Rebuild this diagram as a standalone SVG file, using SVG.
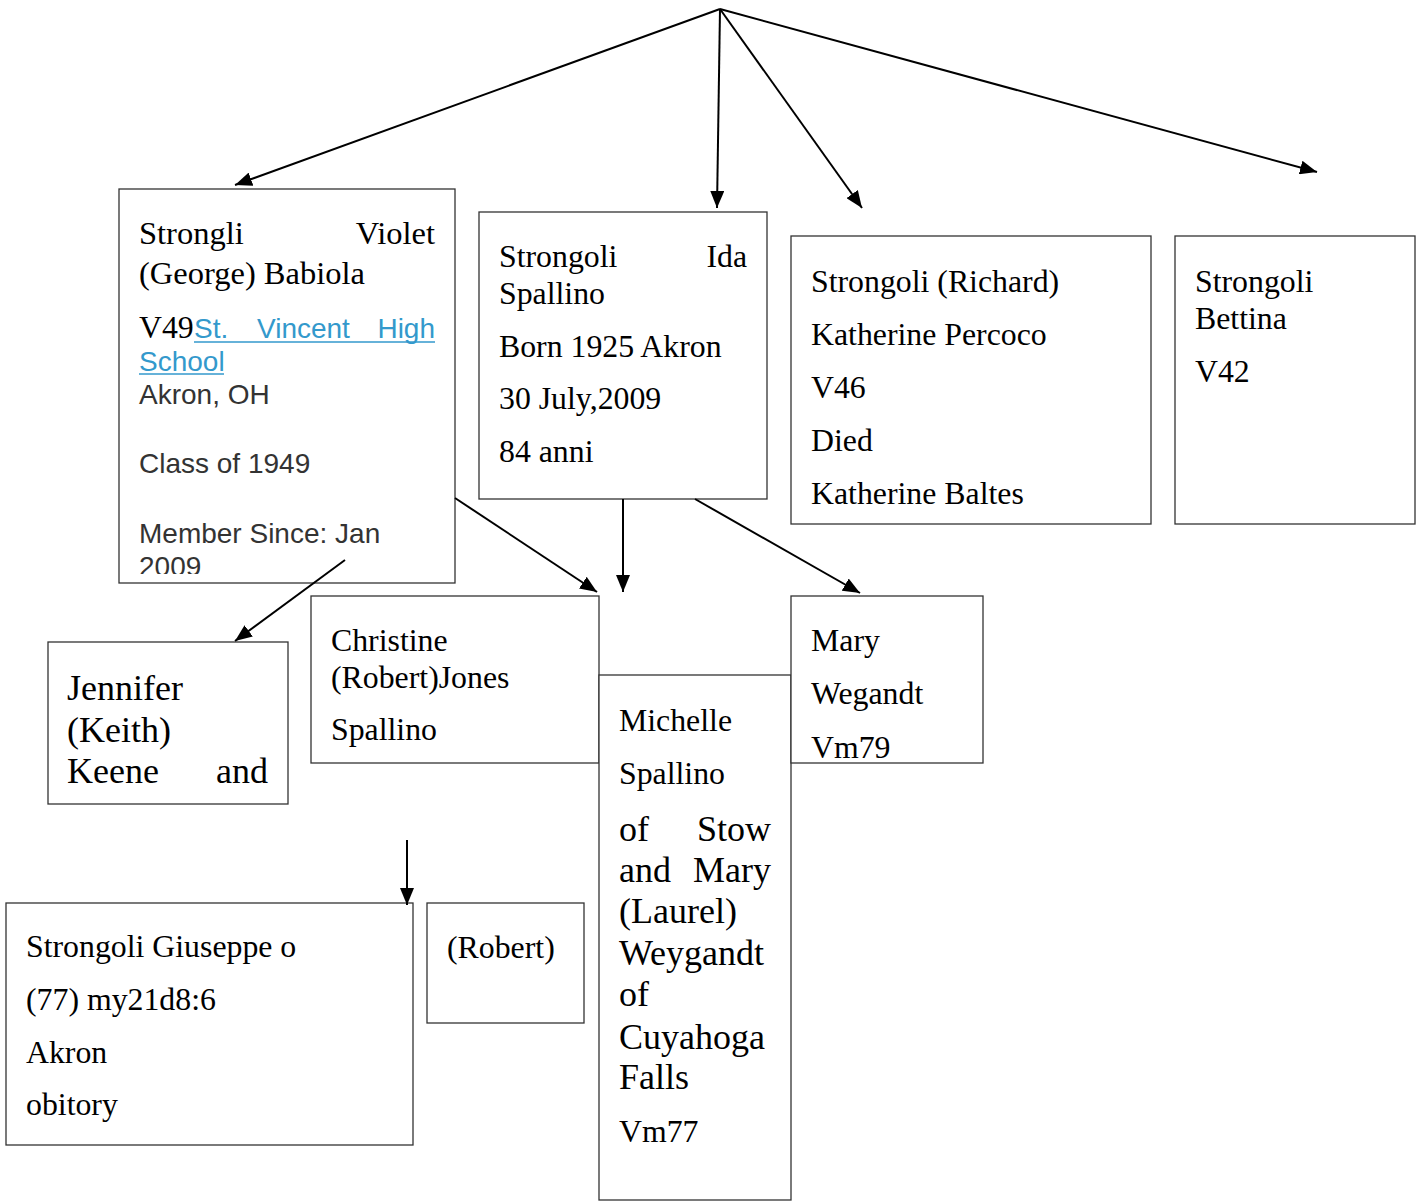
<svg xmlns="http://www.w3.org/2000/svg" width="1423" height="1203" viewBox="0 0 1423 1203">
<style>
.box{fill:#fff;stroke:#333;stroke-width:1.3}
.t{font-family:"Liberation Serif","Times New Roman",serif;font-size:31.8px;fill:#000}
.tb{font-family:"Liberation Serif","Times New Roman",serif;font-size:36px;fill:#000}
.a{font-family:"Liberation Sans",Arial,sans-serif;font-size:28px;fill:#333}
.lk{font-family:"Liberation Sans",Arial,sans-serif;font-size:28px;fill:#3399cc}
.ul{stroke:#3399cc;stroke-width:1.6}
.c{stroke:#000;stroke-width:2;fill:none;marker-end:url(#ah)}
</style>
<defs>
<marker id="ah" markerUnits="userSpaceOnUse" markerWidth="18" markerHeight="14" refX="17" refY="7" orient="auto">
<path d="M0,0 L17,7 L0,14 z" fill="#000"/>
</marker>
<clipPath id="cv"><rect x="119" y="189" width="336" height="385"/></clipPath>
<clipPath id="cm"><rect x="791" y="596" width="192" height="162"/></clipPath>
</defs>
<rect width="1423" height="1203" fill="#fff"/>

<g id="n-violet">
<rect class="box" x="119" y="189" width="336" height="394"/>
<g clip-path="url(#cv)">
<text class="t" style="font-size:32.5px" x="139" y="244">Strongli</text>
<text class="t" style="font-size:32.5px" x="435" y="244" text-anchor="end">Violet</text>
<text class="t" style="font-size:32.5px" x="139" y="284">(George) Babiola</text>
<text class="t" x="139" y="338">V49</text>
<text class="lk" x="194" y="338">St.</text>
<text class="lk" x="257" y="338">Vincent</text>
<text class="lk" x="435" y="338" text-anchor="end">High</text>
<line class="ul" x1="194" y1="342" x2="435" y2="342"/>
<text class="lk" x="139" y="371">School</text>
<line class="ul" x1="139" y1="374" x2="224" y2="374"/>
<text class="a" x="139" y="404">Akron, OH</text>
<text class="a" x="139" y="473">Class of 1949</text>
<text class="a" x="139" y="543">Member Since: Jan</text>
<text class="a" x="139" y="576">2009</text>
</g>
</g>

<g id="n-ida">
<rect class="box" x="479" y="212" width="288" height="287"/>
<text class="t" x="499" y="267">Strongoli</text>
<text class="t" x="747" y="267" text-anchor="end">Ida</text>
<text class="t" x="499" y="304">Spallino</text>
<text class="t" x="499" y="357">Born 1925 Akron</text>
<text class="t" x="499" y="409">30 July,2009</text>
<text class="t" x="499" y="462">84 anni</text>
</g>

<g id="n-richard">
<rect class="box" x="791" y="236" width="360" height="288"/>
<text class="t" x="811" y="292">Strongoli (Richard)</text>
<text class="t" x="811" y="345">Katherine Percoco</text>
<text class="t" x="811" y="398">V46</text>
<text class="t" x="811" y="451">Died</text>
<text class="t" x="811" y="504">Katherine Baltes</text>
</g>

<g id="n-bettina">
<rect class="box" x="1175" y="236" width="240" height="288"/>
<text class="t" x="1195" y="292">Strongoli</text>
<text class="t" x="1195" y="329">Bettina</text>
<text class="t" x="1195" y="382">V42</text>
</g>

<g id="n-jennifer">
<rect class="box" x="48" y="642" width="240" height="162"/>
<text class="tb" x="67" y="700">Jennifer</text>
<text class="tb" x="67" y="742">(Keith)</text>
<text class="tb" x="67" y="783">Keene</text>
<text class="tb" x="268" y="783" text-anchor="end">and</text>
</g>

<g id="n-christine">
<rect class="box" x="311" y="596" width="288" height="167"/>
<text class="t" x="331" y="651">Christine</text>
<text class="t" x="331" y="688">(Robert)Jones</text>
<text class="t" x="331" y="740">Spallino</text>
</g>

<g id="n-michelle">
<rect class="box" x="599" y="675" width="192" height="525"/>
<text class="t" x="619" y="731">Michelle</text>
<text class="t" x="619" y="784">Spallino</text>
<text class="tb" x="619" y="841">of</text>
<text class="tb" x="771" y="841" text-anchor="end">Stow</text>
<text class="tb" x="619" y="882">and</text>
<text class="tb" x="771" y="882" text-anchor="end">Mary</text>
<text class="tb" x="619" y="923">(Laurel)</text>
<text class="tb" x="619" y="965">Weygandt</text>
<text class="tb" x="619" y="1006">of</text>
<text class="tb" x="619" y="1049">Cuyahoga</text>
<text class="tb" x="619" y="1089">Falls</text>
<text class="t" x="619" y="1142">Vm77</text>
</g>

<g id="n-mary">
<rect class="box" x="791" y="596" width="192" height="167"/>
<text class="t" x="811" y="651">Mary</text>
<text class="t" x="811" y="704">Wegandt</text>
<text class="t" x="811" y="758" clip-path="url(#cm)">Vm79</text>
</g>

<g id="n-giuseppe">
<rect class="box" x="6" y="903" width="407" height="242"/>
<text class="t" x="26" y="957">Strongoli Giuseppe o</text>
<text class="t" x="26" y="1010">(77) my21d8:6</text>
<text class="t" x="26" y="1063">Akron</text>
<text class="t" x="26" y="1115">obitory</text>
</g>

<g id="n-robert">
<rect class="box" x="427" y="903" width="157" height="120"/>
<text class="t" x="447" y="958">(Robert)</text>
</g>

<g id="connectors">
<line class="c" x1="720" y1="9" x2="235" y2="185"/>
<line class="c" x1="720" y1="9" x2="717" y2="208"/>
<line class="c" x1="720" y1="9" x2="862" y2="208"/>
<line class="c" x1="720" y1="9" x2="1317" y2="172"/>
<line class="c" x1="455" y1="498" x2="597" y2="592"/>
<line class="c" x1="623" y1="499" x2="623" y2="592"/>
<line class="c" x1="695" y1="499" x2="860" y2="593"/>
<line class="c" x1="345" y1="560" x2="235" y2="641"/>
<line class="c" x1="407" y1="840" x2="407" y2="905"/>
</g>
</svg>
